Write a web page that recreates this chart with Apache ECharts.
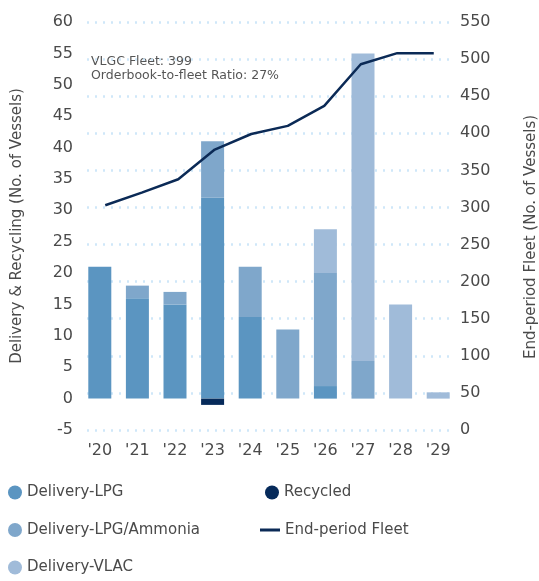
<!DOCTYPE html>
<html><head><meta charset="utf-8">
<script src="https://cdn.jsdelivr.net/npm/echarts@6/dist/echarts.min.js"></script>
<style>html,body{margin:0;padding:0;background:#fff}#c{width:539px;height:581px}</style>
</head><body><div id="c"></div>
<script>
const years = ["'20","'21","'22","'23","'24","'25","'26","'27","'28","'29"];
const deliveryLPG = [21, 16, 15, 32, 13, 0, 2, 0, 0, 0];
const deliveryAmmonia = [0, 2, 2, 9, 8, 11, 18, 6, 0, 0];
const deliveryVLAC = [0, 0, 0, 0, 0, 0, 7, 49, 15, 1];
const recycled = [0, 0, 0, -1, 0, 0, 0, 0, 0, 0];
const fleet = [303, 320, 338, 378, 399, 410, 437, 493, 508, 508];
const leftTicks = {min: -5, max: 60, interval: 5};
const rightTicks = {min: 0, max: 550, interval: 50};

const FONT = 'DejaVu Sans';
const TXT = '#4a4a4a';
const chart = echarts.init(document.getElementById('c'));
chart.setOption({
  animation: false,
  textStyle: {fontFamily: FONT},
  grid: [
    {left: 81, right: 82, top: 22, bottom: 151},
    {left: 87, right: 87, top: 22, bottom: 151}
  ],
  xAxis: [
    {type: 'category', gridIndex: 0, data: years, axisLine: {show: false}, axisTick: {show: false},
     axisLabel: {color: TXT, fontSize: 16, fontFamily: FONT, margin: 13}},
    {type: 'category', gridIndex: 1, data: years, show: false}
  ],
  yAxis: [
    {type: 'value', gridIndex: 0, position: 'left', min: leftTicks.min, max: leftTicks.max, interval: leftTicks.interval,
     name: 'Delivery & Recycling (No. of Vessels)', nameLocation: 'middle', nameGap: 56, nameRotate: 90,
     nameTextStyle: {color: TXT, fontSize: 15, fontFamily: FONT},
     axisLine: {show: false}, axisTick: {show: false}, splitLine: {show: false},
     axisLabel: {color: TXT, fontSize: 16, fontFamily: FONT, margin: 8}},
    {type: 'value', gridIndex: 1, position: 'right', min: rightTicks.min, max: rightTicks.max, interval: rightTicks.interval,
     axisLine: {show: false}, axisTick: {show: false},
     splitLine: {show: true, lineStyle: {color: '#cfe7f9', width: 2.5, type: [2, 6]}},
     axisLabel: {color: TXT, fontSize: 16, fontFamily: FONT, margin: 8}}
  ],
  legend: [
    {orient: 'vertical', left: 8, top: 485, padding: 0, itemWidth: 14, itemHeight: 14, itemGap: 22.5, icon: 'circle',
     textStyle: {color: TXT, fontSize: 15, lineHeight: 15, fontFamily: FONT},
     data: ['Delivery-LPG', 'Delivery-LPG/Ammonia', 'Delivery-VLAC']},
    {orient: 'vertical', left: 265, top: 485, padding: 0, itemWidth: 14, itemHeight: 14, icon: 'circle',
     textStyle: {color: TXT, fontSize: 15, lineHeight: 15, fontFamily: FONT},
     data: ['Recycled']},
    {orient: 'vertical', left: 260, top: 522.5, padding: 0, itemWidth: 20, itemHeight: 3, icon: 'rect',
     textStyle: {color: TXT, fontSize: 15, lineHeight: 15, fontFamily: FONT},
     data: ['End-period Fleet']}
  ],
  graphic: [
    {type: 'text', left: 91, top: 55, style: {text: 'VLGC Fleet: 399\nOrderbook-to-fleet Ratio: 27%',
      fill: '#555', font: '12.5px "DejaVu Sans"', lineHeight: 13.5}},
    {type: 'text', x: 531, y: 237, rotation: Math.PI / 2,
     style: {text: 'End-period Fleet (No. of Vessels)', fill: TXT, font: '15px "DejaVu Sans"',
      textAlign: 'center', textVerticalAlign: 'middle'}}
  ],
  series: [
    {name: 'Delivery-LPG', type: 'bar', stack: 'd', xAxisIndex: 0, yAxisIndex: 0, barWidth: 23,
     itemStyle: {color: '#5b95c1'}, data: deliveryLPG},
    {name: 'Delivery-LPG/Ammonia', type: 'bar', stack: 'd', xAxisIndex: 0, yAxisIndex: 0, barWidth: 23,
     itemStyle: {color: '#7fa7cb'}, data: deliveryAmmonia},
    {name: 'Delivery-VLAC', type: 'bar', stack: 'd', xAxisIndex: 0, yAxisIndex: 0, barWidth: 23,
     itemStyle: {color: '#a0bbd9'}, data: deliveryVLAC},
    {name: 'Recycled', type: 'bar', stack: 'd', xAxisIndex: 0, yAxisIndex: 0, barWidth: 23,
     itemStyle: {color: '#062a5a'}, data: recycled},
    {name: 'End-period Fleet', type: 'line', xAxisIndex: 1, yAxisIndex: 1, showSymbol: false, symbol: 'none',
     lineStyle: {color: '#0b2a56', width: 2.5}, itemStyle: {color: '#0b2a56'}, data: fleet, z: 5}
  ]
});
</script></body></html>
